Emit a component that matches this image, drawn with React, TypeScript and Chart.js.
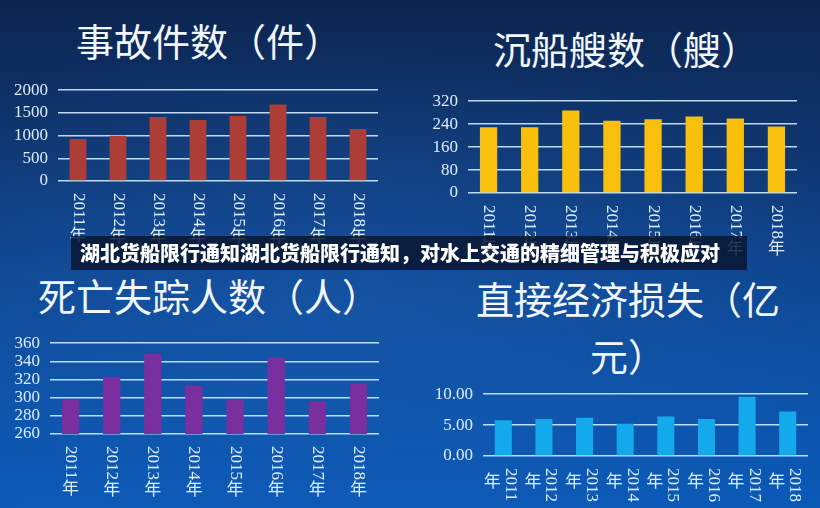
import React, { useEffect, useRef } from 'react';
import Chart from 'chart.js/auto';

// ---------- data ----------
const YEARS = ['2011年', '2012年', '2013年', '2014年', '2015年', '2016年', '2017年', '2018年'];
const ACCIDENTS = [926, 995, 1412, 1345, 1433, 1683, 1411, 1147];
const SUNK_SHIPS = [229, 229, 288, 252, 257, 267, 260, 232];
const DEATHS_MISSING = [298, 323, 348, 313, 298, 344, 296, 315];
const ECON_LOSS = [5.8, 6.0, 6.2, 5.2, 6.4, 6.0, 9.6, 7.2];

const ACCIDENT_TICKS = [0, 500, 1000, 1500, 2000];
const SUNK_TICKS = [0, 80, 160, 240, 320];
const DEATH_TICKS = [260, 280, 300, 320, 340, 360];
const LOSS_TICKS = [0, 5, 10];

const TITLE_1 = '事故件数（件）';
const TITLE_2 = '沉船艘数（艘）';
const TITLE_3 = '死亡失踪人数（人）';
const TITLE_4A = '直接经济损失（亿';
const TITLE_4B = '元）';
const BANNER = '湖北货船限行通知湖北货船限行通知，对水上交通的精细管理与积极应对';

const LABEL_COLOR = '#dcecff';
const GRID_COLOR = 'rgba(205,232,255,0.92)';
const SERIF = '"Liberation Serif", "Noto Sans CJK SC", serif';

type Panel = {
  left: number; top: number; width: number; height: number;
  padTop: number; padBottom: number; padRight: number; axisWidth: number;
  values: number[]; ticks: number[]; color: string; decimals: number;
  mode: 'stack' | 'split';
};

function makeLabelPlugin(mode: 'stack' | 'split') {
  return {
    id: 'verticalYearLabels',
    afterDraw(chart: any) {
      const { ctx, chartArea } = chart;
      const xs = chart.scales.x;
      ctx.save();
      ctx.fillStyle = LABEL_COLOR;
      YEARS.forEach((lab, i) => {
        const x = xs.getPixelForValue(i);
        const digits = lab.replace('年', '');
        ctx.font = '17px ' + SERIF;
        const w = ctx.measureText(digits).width;
        const y0 = chartArea.bottom + 12;
        const dx = mode === 'stack' ? 0 : 7;
        ctx.save();
        ctx.translate(x + dx, y0);
        ctx.rotate(Math.PI / 2);
        ctx.textAlign = 'left';
        ctx.textBaseline = 'middle';
        ctx.fillText(digits, 0, 0);
        ctx.restore();
        ctx.font = '17px "Noto Sans CJK SC", sans-serif';
        ctx.textAlign = 'center';
        ctx.textBaseline = 'top';
        if (mode === 'stack') {
          ctx.fillText('年', x, y0 + w);
        } else {
          ctx.fillText('年', x - 11, y0 + 4);
        }
      });
      ctx.restore();
    },
  };
}

function BarPanel(p: Panel) {
  const ref = useRef<HTMLCanvasElement>(null);
  useEffect(() => {
    if (!ref.current) return;
    const min = p.ticks[0];
    const max = p.ticks[p.ticks.length - 1];
    const step = p.ticks[1] - p.ticks[0];
    const chart = new Chart(ref.current, {
      type: 'bar',
      data: {
        labels: YEARS,
        datasets: [{
          data: p.values,
          backgroundColor: p.color,
          borderWidth: 0,
          barPercentage: 0.42,
          categoryPercentage: 1,
        }],
      },
      options: {
        animation: false,
        responsive: false,
        layout: { padding: { top: p.padTop, bottom: p.padBottom, right: p.padRight, left: 0 } },
        plugins: { legend: { display: false }, tooltip: { enabled: false }, title: { display: false } },
        scales: {
          x: {
            display: false,
          },
          y: {
            min, max,
            ticks: {
              stepSize: step,
              autoSkip: false,
              color: LABEL_COLOR,
              font: { family: SERIF, size: 17 },
              padding: 10,
              callback: (v: any) => Number(v).toFixed(p.decimals),
            },
            grid: { color: GRID_COLOR, lineWidth: 1.5, drawTicks: false },
            border: { display: false },
            afterFit: (s: any) => { s.width = p.axisWidth; },
          },
        },
      },
      plugins: [makeLabelPlugin(p.mode)],
    } as any);
    return () => chart.destroy();
  }, []);
  return (
    <canvas
      ref={ref}
      width={p.width}
      height={p.height}
      style={{ position: 'absolute', left: p.left, top: p.top, width: p.width, height: p.height }}
    />
  );
}

const titleStyle: React.CSSProperties = {
  position: 'absolute',
  fontFamily: '"Noto Sans CJK SC", sans-serif',
  fontSize: 38,
  lineHeight: '38px',
  color: '#f1f6fc',
  whiteSpace: 'nowrap',
  fontWeight: 400,
};

export default function App() {
  return (
    <div
      style={{
        position: 'fixed', left: 0, top: 0, width: 820, height: 508, overflow: 'hidden',
        background:
          'radial-gradient(ellipse 70% 55% at 40% 62%, rgba(30,95,180,0.45) 0%, rgba(30,95,180,0) 100%),' +
          'linear-gradient(180deg, #0c2550 0%, #0f3670 30%, #0e4690 55%, #0b52a8 78%, #0b5ab8 100%)',
      }}
    >
      <div style={{ ...titleStyle, left: 76, top: 21 }}>{TITLE_1}</div>
      <div style={{ ...titleStyle, left: 493, top: 29 }}>{TITLE_2}</div>
      <div style={{ ...titleStyle, left: 38, top: 276 }}>{TITLE_3}</div>
      <div style={{ ...titleStyle, left: 476, top: 269, width: 304, textAlign: 'center', lineHeight: '57px' }}>
        {TITLE_4A}<br />{TITLE_4B}
      </div>

      <BarPanel left={0} top={70} width={390} height={180} padTop={12} padBottom={69} padRight={12}
        axisWidth={58} values={ACCIDENTS} ticks={ACCIDENT_TICKS} color="#ad3d37" decimals={0} mode="stack" />
      <BarPanel left={410} top={81} width={400} height={180} padTop={12} padBottom={68} padRight={13}
        axisWidth={58} values={SUNK_SHIPS} ticks={SUNK_TICKS} color="#f8c00c" decimals={0} mode="stack" />
      <BarPanel left={0} top={323} width={390} height={185} padTop={12} padBottom={74} padRight={11}
        axisWidth={50} values={DEATHS_MISSING} ticks={DEATH_TICKS} color="#7a2f9f" decimals={0} mode="stack" />
      <BarPanel left={410} top={374} width={410} height={134} padTop={12} padBottom={52} padRight={12}
        axisWidth={73} values={ECON_LOSS} ticks={LOSS_TICKS} color="#14a9ec" decimals={2} mode="split" />

      <div
        style={{
          position: 'absolute', left: 71, top: 236, width: 676, height: 34,
          background: 'rgba(8,22,48,0.84)', boxSizing: 'border-box', paddingLeft: 9,
          fontFamily: '"Noto Sans CJK SC", sans-serif', fontWeight: 900, fontSize: 20,
          lineHeight: '34px', color: '#ffffff', whiteSpace: 'nowrap',
        }}
      >
        {BANNER}
      </div>
    </div>
  );
}
